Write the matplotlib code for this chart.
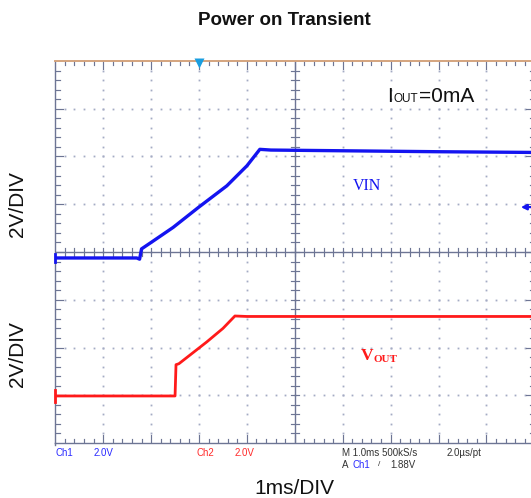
import numpy as np
import matplotlib
matplotlib.use("Agg")
import matplotlib.pyplot as plt

# ---------------- data (time in ms, voltage in V) ----------------
vin_t = [0.0, 1.70, 1.76, 1.80, 2.00, 2.46, 2.99, 3.58, 4.00, 4.27, 4.50, 6.00, 8.00, 10.0]
vin_v = [-0.25, -0.25, -0.30, 0.13, 0.40, 1.03, 1.87, 2.77, 3.61, 4.30, 4.27, 4.24, 4.20, 4.17]

vout_t = [0.0, 2.50, 2.52, 2.58, 3.16, 3.50, 3.75, 4.00, 6.00, 8.00, 10.0]
vout_v = [-0.03, -0.03, 1.28, 1.32, 2.23, 2.80, 3.32, 3.30, 3.30, 3.30, 3.30]

ch1_ground_div = 4.0     # screen division of Ch1 0 V
ch2_ground_div = 1.0     # screen division of Ch2 0 V
volts_per_div = 2.0
trigger_time = 3.0
trigger_level_v = 1.88

title = "Power on Transient"
ylabel = "2V/DIV"
xlabel = "1ms/DIV"

W, H = 531, 498
fig = plt.figure(figsize=(W / 100, H / 100), dpi=100)
ax = fig.add_axes([55.3 / W, 55 / H, 479 / W, 382 / H])
ax.set_xlim(0, 10)
ax.set_ylim(0, 8)
ax.axis("off")

def px(x, y):
    return x / W, 1 - y / H

grid_c = "#6d7594"
dot_c = "#a4abc4"

# dotted graticule
minor = np.arange(0.2, 10.0, 0.2)
minor_y = np.arange(0.2, 8.0, 0.2)
for gx in range(1, 10):
    if gx == 5:
        continue
    ax.plot([gx] * len(minor_y), minor_y, ls="none", marker="s", ms=1.3,
            mec="none", mfc=dot_c, zorder=1)
for gy in range(1, 8):
    if gy == 4:
        continue
    ax.plot(minor, [gy] * len(minor), ls="none", marker="s", ms=1.3,
            mec="none", mfc=dot_c, zorder=1)

# centre axes with ticks
ax.plot([5, 5], [0, 8], color=grid_c, lw=1.0, zorder=2)
ax.plot([0, 10], [4, 4], color=grid_c, lw=1.0, zorder=2)
tl = 0.085
for yv in minor_y:
    ax.plot([5 - tl, 5 + tl], [yv, yv], color=grid_c, lw=0.85, zorder=2)
for xv in minor:
    ax.plot([xv, xv], [4 - tl, 4 + tl], color=grid_c, lw=0.85, zorder=2)

# border with inward ticks
ax.plot([0, 0], [0, 8.0], color=grid_c, lw=1.0, zorder=2, clip_on=False)
ax.plot([0, 0], [-0.05, 0], color=grid_c, lw=1.0, zorder=2, clip_on=False)
ax.plot([0, 10.2], [0, 0], color=grid_c, lw=1.0, zorder=2, clip_on=False)
ax.plot([0, 10.2], [8, 8], color="#d4a47e", lw=1.4, zorder=3, clip_on=False)
for xv in np.arange(0.2, 10.0, 0.2):
    major = abs(xv - round(xv)) < 1e-6
    L = 0.17 if major else 0.09
    ax.plot([xv, xv], [0, L], color=grid_c, lw=0.85, zorder=2)
    ax.plot([xv, xv], [8 - L, 8], color=grid_c, lw=0.85, zorder=2)
for yv in np.arange(0.2, 8.0, 0.2):
    major = abs(yv - round(yv)) < 1e-6
    L = 0.17 if major else 0.09
    ax.plot([0, L], [yv, yv], color=grid_c, lw=0.85, zorder=2)
    ax.plot([10 - L, 10], [yv, yv], color=grid_c, lw=0.85, zorder=2)

# traces
vin_screen = [ch1_ground_div + v / volts_per_div for v in vin_v]
vout_screen = [ch2_ground_div + v / volts_per_div for v in vout_v]
ax.plot(vin_t, vin_screen, color="#1414f0", lw=2.4, zorder=5, solid_joinstyle="round")
ax.plot(vout_t, vout_screen, color="#ff1a1a", lw=2.0, zorder=5, solid_joinstyle="round")
ax.plot([0.0, 0.0], [vin_screen[0] - 0.08, vin_screen[0] + 0.08], color="#1414f0", lw=2, zorder=5, clip_on=False)
ax.plot([0.0, 0.0], [vout_screen[0] - 0.12, vout_screen[0] + 0.12], color="#ff1a1a", lw=2, zorder=5, clip_on=False)

# trigger markers
ax.plot([trigger_time], [7.95], marker="v", ms=6.5, color="#1a9ee0", mec="none", zorder=6, clip_on=False)
trig_div = ch1_ground_div + trigger_level_v / volts_per_div
ax.annotate("", xy=(9.72, trig_div), xytext=(10.0, trig_div),
            arrowprops=dict(arrowstyle="-|>", color="#1414f0", lw=1.6,
                            mutation_scale=8, shrinkA=0, shrinkB=0),
            zorder=6, annotation_clip=False)

# labels
fig.text(*px(284, 20), title, ha="center", va="center", fontsize=13.5,
         fontweight="bold", family="Liberation Sans", color="#111111")
fig.text(*px(18, 204), ylabel, ha="center", va="center", rotation=90,
         fontsize=15, family="Liberation Sans", color="#111111")
fig.text(*px(18, 354), ylabel, ha="center", va="center", rotation=90,
         fontsize=15, family="Liberation Sans", color="#111111")
fig.text(*px(294.5, 488), xlabel, ha="center", va="center", fontsize=15,
         family="Liberation Sans", color="#111111")

# I_OUT annotation
fig.text(*px(387.5, 101.7), "I", ha="left", va="baseline", fontsize=15,
         family="Liberation Sans", color="#111111")
fig.text(*px(393, 101.7), "OUT", ha="left", va="baseline", fontsize=8.5,
         family="Liberation Sans", color="#111111")
fig.text(*px(418.5, 101.7), "=0mA", ha="left", va="baseline", fontsize=15,
         family="Liberation Sans", color="#111111")

# channel labels
fig.text(*px(352.5, 189.5), "VIN", ha="left", va="baseline", fontsize=11.5,
         family="Liberation Serif", color="#1414f0")
fig.text(*px(360.5, 360), "V", ha="left", va="baseline", fontsize=12.5,
         family="Liberation Serif", fontweight="bold", color="#ff1a1a")
fig.text(*px(373.5, 362), "OUT", ha="left", va="baseline", fontsize=8,
         family="Liberation Serif", fontweight="bold", color="#ff1a1a")

# scope status line
sfs = 7
blue, red, dark = "#2a2aff", "#ff2a2a", "#333333"
fig.text(*px(55.5, 453), "Ch1", ha="left", va="center", fontsize=sfs, family="Liberation Sans", color=blue)
fig.text(*px(94, 453), "2.0V", ha="left", va="center", fontsize=sfs, family="Liberation Sans", color=blue)
fig.text(*px(196.5, 453), "Ch2", ha="left", va="center", fontsize=sfs, family="Liberation Sans", color=red)
fig.text(*px(234.5, 453), "2.0V", ha="left", va="center", fontsize=sfs, family="Liberation Sans", color=red)
fig.text(*px(342, 453), "M 1.0ms 500kS/s", ha="left", va="center", fontsize=sfs, family="Liberation Sans", color=dark)
fig.text(*px(446.5, 453), "2.0µs/pt", ha="left", va="center", fontsize=sfs, family="Liberation Sans", color=dark)
fig.text(*px(342, 465), "A", ha="left", va="center", fontsize=sfs, family="Liberation Sans", color=dark)
fig.text(*px(352.5, 465), "Ch1", ha="left", va="center", fontsize=sfs, family="Liberation Sans", color=blue)
fig.text(*px(377.5, 465), "/", ha="left", va="center", fontsize=sfs - 1, family="Liberation Sans", color=dark)
fig.text(*px(390, 465), "1.88V", ha="left", va="center", fontsize=sfs, family="Liberation Sans", color=dark)

fig.savefig("out.png", dpi=100)
